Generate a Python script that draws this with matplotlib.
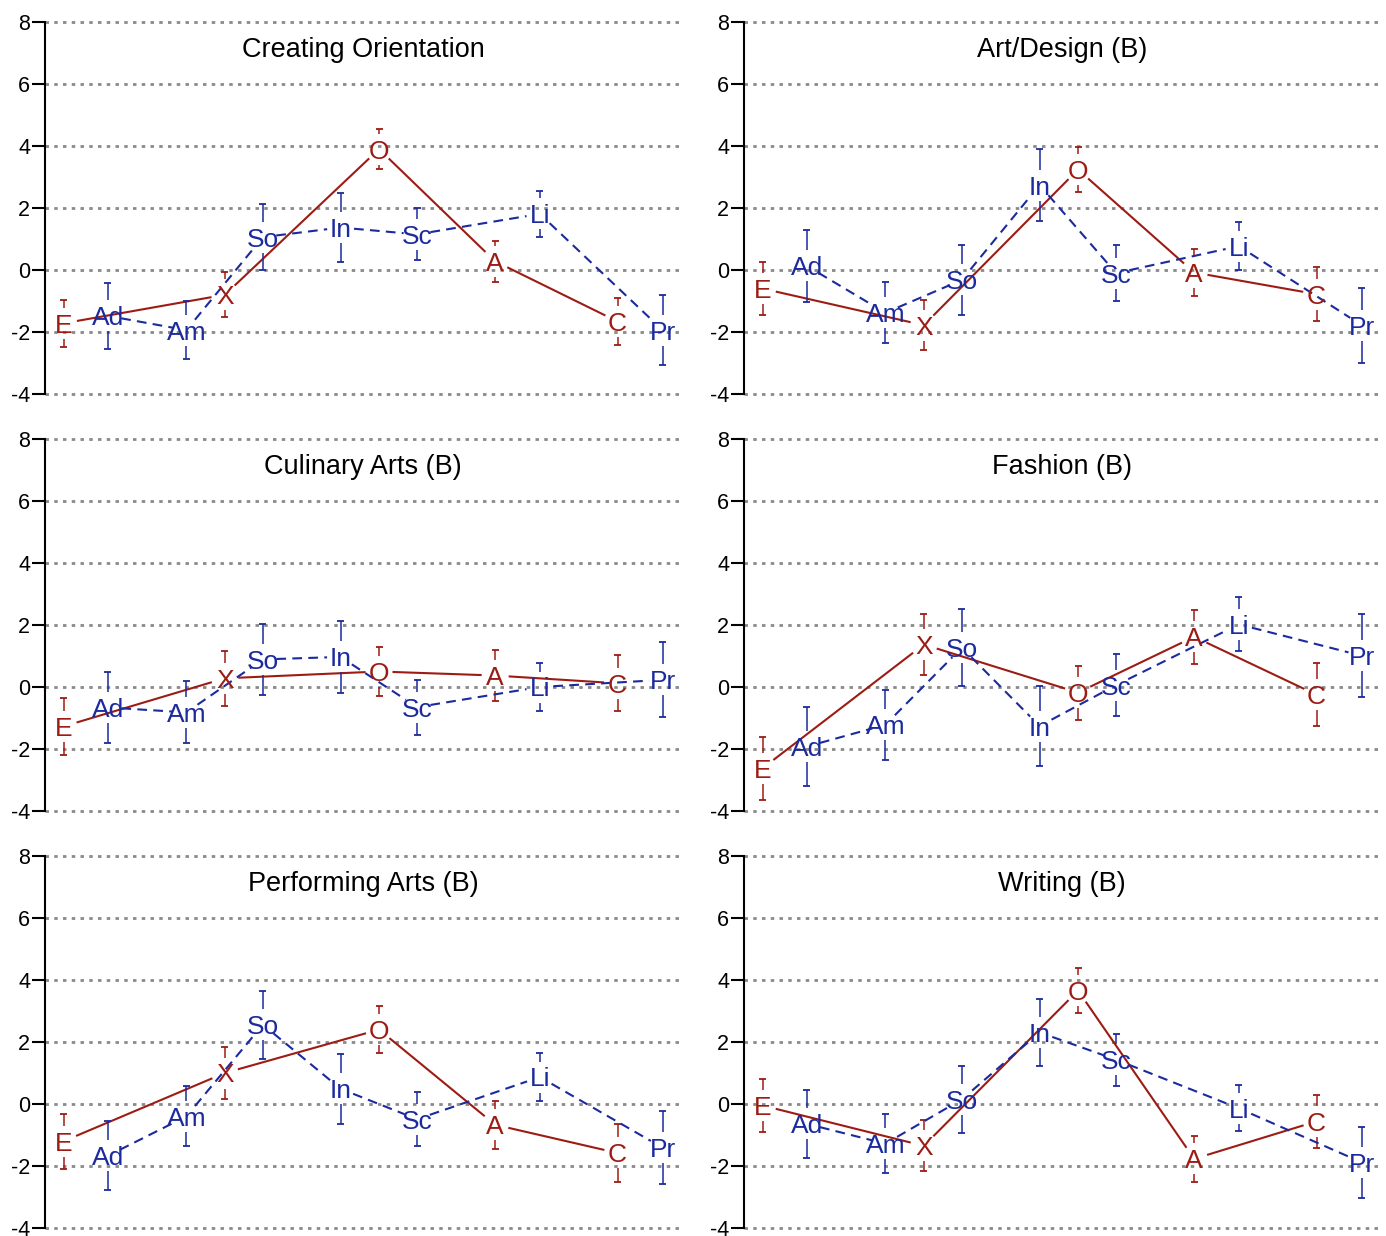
import numpy as np
import matplotlib
matplotlib.use("Agg")
import matplotlib.pyplot as plt
from matplotlib import transforms

plt.rcParams['font.family'] = ['Liberation Sans', 'DejaVu Sans']
plt.rcParams['axes.unicode_minus'] = False
plt.rcParams['lines.scale_dashes'] = False

# ---------------- data ----------------
titles = ["Creating Orientation", "Art/Design (B)", "Culinary Arts (B)",
          "Fashion (B)", "Performing Arts (B)", "Writing (B)"]

red_labels = ["E", "X", "O", "A", "C"]
blue_labels = ["Ad", "Am", "So", "In", "Sc", "Li", "Pr"]

# category positions along the horizontal axis
red_pos = [0.49, 4.64, 8.61, 11.6, 14.75]
blue_pos = [1.63, 3.65, 5.62, 7.62, 9.59, 12.75, 15.91]

red_means = [
    [-1.72, -0.80, 3.90, 0.28, -1.66],
    [-0.60, -1.78, 3.24, -0.08, -0.78],
    [-1.27, 0.28, 0.50, 0.37, 0.12],
    [-2.62, 1.37, -0.18, 1.62, -0.25],
    [-1.20, 1.00, 2.40, -0.67, -1.58],
    [-0.05, -1.35, 3.66, -1.77, -0.56],
]
red_err = [
    [0.75, 0.72, 0.65, 0.66, 0.77],
    [0.85, 0.81, 0.74, 0.75, 0.88],
    [0.91, 0.88, 0.78, 0.81, 0.91],
    [1.02, 0.97, 0.87, 0.88, 1.02],
    [0.89, 0.84, 0.75, 0.78, 0.92],
    [0.85, 0.82, 0.74, 0.75, 0.86],
]
blue_means = [
    [-1.48, -1.94, 1.06, 1.37, 1.15, 1.81, -1.94],
    [0.13, -1.38, -0.32, 2.74, -0.10, 0.77, -1.78],
    [-0.66, -0.82, 0.89, 0.97, -0.65, 0.00, 0.23],
    [-1.92, -1.22, 1.27, -1.26, 0.06, 2.02, 1.01],
    [-1.67, -0.40, 2.56, 0.49, -0.49, 0.87, -1.41],
    [-0.64, -1.28, 0.15, 2.31, 1.43, -0.14, -1.88],
]
blue_err = [
    [1.07, 0.94, 1.07, 1.10, 0.84, 0.74, 1.13],
    [1.16, 0.99, 1.13, 1.16, 0.90, 0.78, 1.21],
    [1.16, 1.00, 1.14, 1.15, 0.89, 0.78, 1.21],
    [1.28, 1.12, 1.25, 1.28, 1.00, 0.87, 1.34],
    [1.11, 0.97, 1.10, 1.12, 0.87, 0.76, 1.17],
    [1.10, 0.96, 1.09, 1.09, 0.84, 0.74, 1.15],
]

yticks = [-4, -2, 0, 2, 4, 6, 8]

RED = "#9c1c14"
BLUE = "#1b2a9c"
GRID = "#8a8a8a"

W, H = 1386, 1236
fig = plt.figure(figsize=(W / 100, H / 100), dpi=100)

col_left = [44.6 / W, 743.6 / W]
col_width = [637 / W, 637 / W]
row_top = [22, 439, 856]
row_h = 372

GAP_LINE = 13.5   # px gap around letter for connecting lines
GAP_ERR = 15.5    # px gap above/below letter for error bars
CAP_HALF = 3.5    # px half-width of caps
LETTER_FONT = ['Liberation Sans Narrow', 'Liberation Sans', 'DejaVu Sans']
LETTER_SIZE = 19


def draw_series(ax, xs, ys, errs, labels, color, dashed):
    to_px = ax.transData
    inv = to_px.inverted()
    pts = to_px.transform(np.column_stack([xs, ys]))
    # connecting line segments with gaps
    for i in range(len(xs) - 1):
        p0, p1 = pts[i], pts[i + 1]
        d = p1 - p0
        L = np.hypot(*d)
        if L <= 2 * GAP_LINE:
            continue
        u = d / L
        a = inv.transform(p0 + u * GAP_LINE)
        b = inv.transform(p1 - u * GAP_LINE)
        if dashed:
            ax.plot([a[0], b[0]], [a[1], b[1]], color=color, lw=1.5,
                    linestyle=(0, (7, 4.5)), solid_capstyle='butt',
                    dash_capstyle='butt', zorder=3)
        else:
            ax.plot([a[0], b[0]], [a[1], b[1]], color=color, lw=1.5,
                    solid_capstyle='butt', zorder=3)
    # error bars
    for x, y, e, p in zip(xs, ys, errs, pts):
        for sgn in (1, -1):
            tip = to_px.transform([x, y + sgn * e])
            start = p[1] + sgn * GAP_ERR
            if (tip[1] - start) * sgn > 0:
                s = inv.transform([p[0], start])
                ax.plot([x, x], [s[1], y + sgn * e], color=color, lw=1.1,
                        solid_capstyle='butt', zorder=3)
            c0 = inv.transform([p[0] - CAP_HALF, tip[1]])
            c1 = inv.transform([p[0] + CAP_HALF, tip[1]])
            ax.plot([c0[0], c1[0]], [y + sgn * e, y + sgn * e], color=color,
                    lw=1.3, solid_capstyle='butt', zorder=3)
    # letters
    off = transforms.offset_copy(ax.transData, fig=fig, x=0,
                                 y=-0.358 * LETTER_SIZE, units='points')
    for x, y, lab in zip(xs, ys, labels):
        ax.text(x, y, lab, color=color, fontsize=LETTER_SIZE, ha='center',
                va='baseline', transform=off, zorder=4, family=LETTER_FONT)


for k in range(6):
    r, c = divmod(k, 2)
    bottom = 1 - (row_top[r] + row_h) / H
    ax = fig.add_axes([col_left[c], bottom, col_width[c], row_h / H])
    ax.set_xlim(0, 16.4)
    ax.set_ylim(-4, 8)
    for s in ['top', 'right', 'bottom']:
        ax.spines[s].set_visible(False)
    ax.spines['left'].set_linewidth(1.5)
    ax.spines['left'].set_color('black')
    ax.set_xticks([])
    ax.set_yticks(yticks)
    ax.set_yticklabels([str(t) for t in yticks])
    ax.tick_params(axis='y', length=9.5, width=1.5, pad=1, labelsize=15.5,
                   direction='out')
    for t in yticks:
        ax.axhline(t, color=GRID, lw=2.0, linestyle=(0, (2.5, 3.8)),
                   dash_capstyle='butt', zorder=1, clip_on=False)
    ax.text(0.5, 0.925, titles[k], transform=ax.transAxes, ha='center',
            va='center', fontsize=19.5, color='black')
    draw_series(ax, red_pos, red_means[k], red_err[k], red_labels, RED, False)
    draw_series(ax, blue_pos, blue_means[k], blue_err[k], blue_labels, BLUE, True)

fig.savefig("out.png", dpi=100)
